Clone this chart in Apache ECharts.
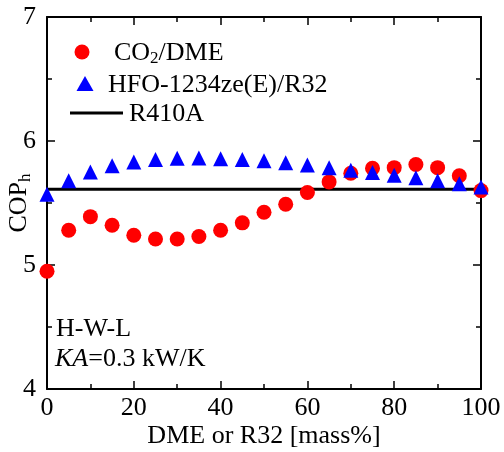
<!DOCTYPE html>
<html>
<head>
<meta charset="utf-8">
<script src="https://cdn.jsdelivr.net/npm/echarts@6/dist/echarts.min.js"></script>
<style>
html,body{margin:0;padding:0;background:#fff;}
#chart{width:504px;height:452px;}
</style>
</head>
<body>
<div id="chart"></div>
<script>
// Data
var xValues = [0,5,10,15,20,25,30,35,40,45,50,55,60,65,70,75,80,85,90,95,100];
var co2DME = [4.95,5.28,5.39,5.32,5.24,5.21,5.21,5.23,5.28,5.34,5.425,5.49,5.585,5.67,5.74,5.78,5.785,5.81,5.785,5.72,5.60];
var hfoR32 = [5.57,5.68,5.75,5.80,5.83,5.85,5.86,5.863,5.857,5.85,5.84,5.825,5.806,5.785,5.764,5.745,5.723,5.703,5.68,5.655,5.63];
var r410a = 5.61;
var xTicks = [0,20,40,60,80,100];
var yTicks = [4,5,6,7];

var FONT = '"Liberation Serif", "Times New Roman", serif';

function pairs(xs, ys){ return xs.map(function(x,i){ return [x, ys[i]]; }); }

function axisBase(extra){
  var o = {
    type:'value',
    axisLine:{show:true, onZero:false, lineStyle:{color:'#000', width:2}},
    axisTick:{show:true, inside:true, length:8, lineStyle:{color:'#000', width:1.5}},
    minorTick:{show:true, splitNumber:2, length:5, lineStyle:{color:'#000', width:1.5}},
    splitLine:{show:false},
    minorSplitLine:{show:false}
  };
  for (var k in extra) o[k] = extra[k];
  return o;
}

var chart = echarts.init(document.getElementById('chart'));

var option = {
  animation:false,
  backgroundColor:'#fff',
  grid:{left:47, right:23, top:17, bottom:63, outerBoundsMode:'none'},
  xAxis:[
    axisBase({
      min:xTicks[0], max:xTicks[xTicks.length-1], interval:20, position:'bottom',
      axisLabel:{show:true, color:'#000', fontFamily:FONT, fontSize:26, margin:6},
      name:'DME or R32 [mass%]', nameLocation:'middle', nameGap:34, nameMoveOverlap:false,
      nameTextStyle:{color:'#000', fontFamily:FONT, fontSize:26}
    }),
    axisBase({
      min:xTicks[0], max:xTicks[xTicks.length-1], interval:20, position:'top',
      axisLabel:{show:false}
    })
  ],
  yAxis:[
    axisBase({
      min:yTicks[0], max:yTicks[yTicks.length-1], interval:1, position:'left',
      axisLabel:{show:true, color:'#000', fontFamily:FONT, fontSize:26, margin:11},
      name:'{a|COP}{s|h}', nameLocation:'middle', nameGap:13, nameRotate:90, nameMoveOverlap:false,
      nameTextStyle:{color:'#000', fontFamily:FONT, fontSize:26,
        rich:{a:{fontFamily:FONT, fontSize:26, color:'#000'}, s:{fontFamily:FONT, fontSize:17, color:'#000', padding:[12,0,0,0]}}}
    }),
    axisBase({
      min:yTicks[0], max:yTicks[yTicks.length-1], interval:1, position:'right',
      axisLabel:{show:false}
    })
  ],
  series:[
    {
      name:'R410A', type:'line', xAxisIndex:0, yAxisIndex:0,
      data:[[xTicks[0], r410a],[xTicks[xTicks.length-1], r410a]],
      symbol:'none', lineStyle:{color:'#000', width:3}, z:2
    },
    {
      name:'CO2/DME', type:'scatter', data:pairs(xValues, co2DME),
      symbol:'circle', symbolSize:15, itemStyle:{color:'#ff0000', opacity:1}, z:3
    },
    {
      name:'HFO-1234ze(E)/R32', type:'scatter', data:pairs(xValues, hfoR32),
      symbol:'triangle', symbolSize:15, itemStyle:{color:'#0000ff', opacity:1}, z:4
    }
  ],
  graphic:[
    {type:'circle', shape:{cx:82, cy:52, r:7.5}, style:{fill:'#ff0000'}},
    {type:'polygon', shape:{points:[[85,76],[93.5,91],[76.5,91]]}, style:{fill:'#0000ff'}},
    {type:'line', shape:{x1:70, y1:113, x2:123, y2:113}, style:{stroke:'#000', lineWidth:3}},
    {type:'text', left:114, top:40, style:{
      text:'{a|CO}{s|2}{a|/DME}', fill:'#000',
      rich:{a:{fontFamily:FONT, fontSize:26, fill:'#000'}, s:{fontFamily:FONT, fontSize:17, fill:'#000', padding:[12,0,0,0]}}
    }},
    {type:'text', left:108, top:72, style:{text:'HFO-1234ze(E)/R32', fontFamily:FONT, fontSize:26, fill:'#000'}},
    {type:'text', left:129, top:101, style:{text:'R410A', fontFamily:FONT, fontSize:26, fill:'#000'}},
    {type:'text', left:56, top:316, style:{text:'H-W-L', fontFamily:FONT, fontSize:26, fill:'#000'}},
    {type:'text', left:55, top:346, style:{
      text:'{i|KA}{a|=0.3 kW/K}', fill:'#000',
      rich:{i:{fontFamily:FONT, fontSize:26, fontStyle:'italic', fill:'#000'}, a:{fontFamily:FONT, fontSize:26, fill:'#000'}}
    }}
  ]
};
chart.setOption(option);
</script>
</body>
</html>
